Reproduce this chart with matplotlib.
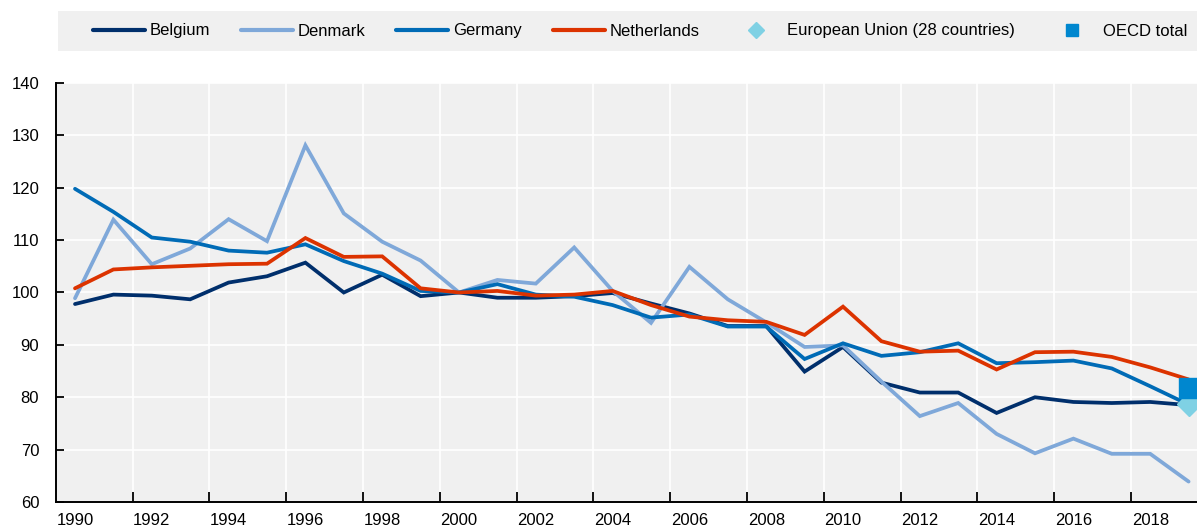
import matplotlib
matplotlib.use("Agg")
import matplotlib.pyplot as plt
import matplotlib.font_manager as fm
from matplotlib.lines import Line2D
from matplotlib.patches import Rectangle
import numpy as np

# ---------------- data ----------------
years = list(range(1990, 2020))
year_labels = [str(y) for y in years[::2]]

belgium = [97.8, 99.6, 99.4, 98.7, 101.9, 103.1, 105.7, 100.0, 103.4, 99.3,
           100.0, 99.0, 99.0, 99.3, 99.9, 97.9, 96.0, 93.6, 93.6, 84.9,
           89.6, 82.8, 80.9, 80.9, 77.0, 80.0, 79.1, 78.9, 79.1, 78.5]
denmark = [98.9, 113.9, 105.4, 108.4, 114.0, 109.8, 128.1, 115.1, 109.7, 106.1,
           100.0, 102.4, 101.7, 108.6, 100.3, 94.2, 104.9, 98.7, 94.3, 89.6,
           89.9, 83.0, 76.4, 78.9, 73.0, 69.3, 72.1, 69.2, 69.2, 63.9]
germany = [119.8, 115.4, 110.5, 109.7, 108.0, 107.6, 109.2, 106.0, 103.6, 100.3,
           100.0, 101.6, 99.6, 99.2, 97.6, 95.2, 95.8, 93.5, 93.5, 87.3,
           90.3, 87.9, 88.6, 90.3, 86.5, 86.7, 87.0, 85.5, 82.1, 78.6]
netherlands = [100.8, 104.4, 104.8, 105.1, 105.4, 105.5, 110.4, 106.8, 106.9, 100.8,
               100.0, 100.3, 99.4, 99.6, 100.3, 97.6, 95.4, 94.7, 94.4, 91.9,
               97.3, 90.7, 88.7, 88.9, 85.3, 88.6, 88.7, 87.7, 85.7, 83.4]
eu_year, eu_value = 2019, 78.8
oecd_year, oecd_value = 2019, 81.8

series_names = ["Belgium", "Denmark", "Germany", "Netherlands"]
series_values = [belgium, denmark, germany, netherlands]
series_colors = ["#002F6C", "#7FA8D9", "#006BB6", "#DC3300"]
eu_label = "European Union (28 countries)"
oecd_label = "OECD total"
eu_color = "#7FD1E4"
oecd_color = "#0087CF"

# ---------------- fonts ----------------
names = {f.name for f in fm.fontManager.ttflist}
if "Liberation Sans Narrow" in names:
    fam, fs_tick, fs_leg = "Liberation Sans Narrow", 13, 13
else:
    fam, fs_tick, fs_leg = "Liberation Sans", 12, 12
plt.rcParams["font.family"] = [fam, "DejaVu Sans"]

W, H = 1197, 528
fig = plt.figure(figsize=(W / 100, H / 100), dpi=100)
fig.patch.set_facecolor("white")

# axes: category width 38.4 px, 30 categories, left spine at x=56
ax = fig.add_axes([55.8 / W, 1 - 502 / H, 1152 / W, 419 / H])
ax.set_facecolor("#F0F0F0")

xpos = np.arange(len(years))
for name, vals, col in zip(series_names, series_values, series_colors):
    ax.plot(xpos, vals, color=col, lw=2.7, solid_capstyle="round",
            solid_joinstyle="miter", zorder=3)

ax.plot([years.index(eu_year)], [eu_value], marker="D", ms=12, color=eu_color,
        ls="none", zorder=4, clip_on=False)
ax.plot([years.index(oecd_year)], [oecd_value], marker="s", ms=14.5, color=oecd_color,
        ls="none", zorder=5, clip_on=False)

ax.set_xlim(-0.5, len(years) - 0.5)
ax.set_ylim(60, 140)
ax.set_yticks(np.arange(60, 141, 10))

# major ticks at category boundaries (grid + tick marks), minor ticks carry labels
ax.set_xticks(np.arange(1.5, len(years) - 0.5, 2))
ax.set_xticklabels([])
ax.set_xticks(np.arange(0, len(years), 2), minor=True)
ax.set_xticklabels(year_labels, minor=True)

ax.tick_params(axis="x", which="major", direction="in", length=7, width=1.3,
               color="black")
ax.tick_params(axis="x", which="minor", length=0, pad=8, labelsize=fs_tick,
               labelcolor="black")
ax.tick_params(axis="y", direction="in", length=6, width=1.3, pad=12,
               labelsize=fs_tick, labelcolor="black")

ax.grid(True, which="major", color="white", lw=1.2)
ax.set_axisbelow(True)
for s in ["top", "right"]:
    ax.spines[s].set_visible(False)
for s in ["left", "bottom"]:
    ax.spines[s].set_color("black")
    ax.spines[s].set_linewidth(1.4)
    ax.spines[s].set_zorder(6)

# ---------------- legend ----------------
fig.add_artist(Rectangle((58 / W, 1 - 50.7 / H), 1 - 58 / W, 39.7 / H,
                         transform=fig.transFigure, facecolor="#F0F0F0",
                         edgecolor="none", zorder=0))
handles = [Line2D([], [], color=c, lw=3, solid_capstyle="round") for c in series_colors]
handles.append(Line2D([], [], color=eu_color, marker="D", ms=8, ls="none"))
handles.append(Line2D([], [], color=oecd_color, marker="s", ms=9, ls="none"))
labels = series_names + [eu_label, oecd_label]
fs_px = fs_leg * 100 / 72
fig.legend(handles, labels, ncol=6, mode="expand", loc="center",
           bbox_to_anchor=(93 / W, 1 - 31 / H, (1187 - 93) / W, 0),
           frameon=False, fontsize=fs_leg, handlelength=52 / fs_px,
           handletextpad=5 / fs_px, borderpad=0, borderaxespad=0,
           columnspacing=1.0, labelcolor="black")

fig.savefig("out.png", dpi=100)
